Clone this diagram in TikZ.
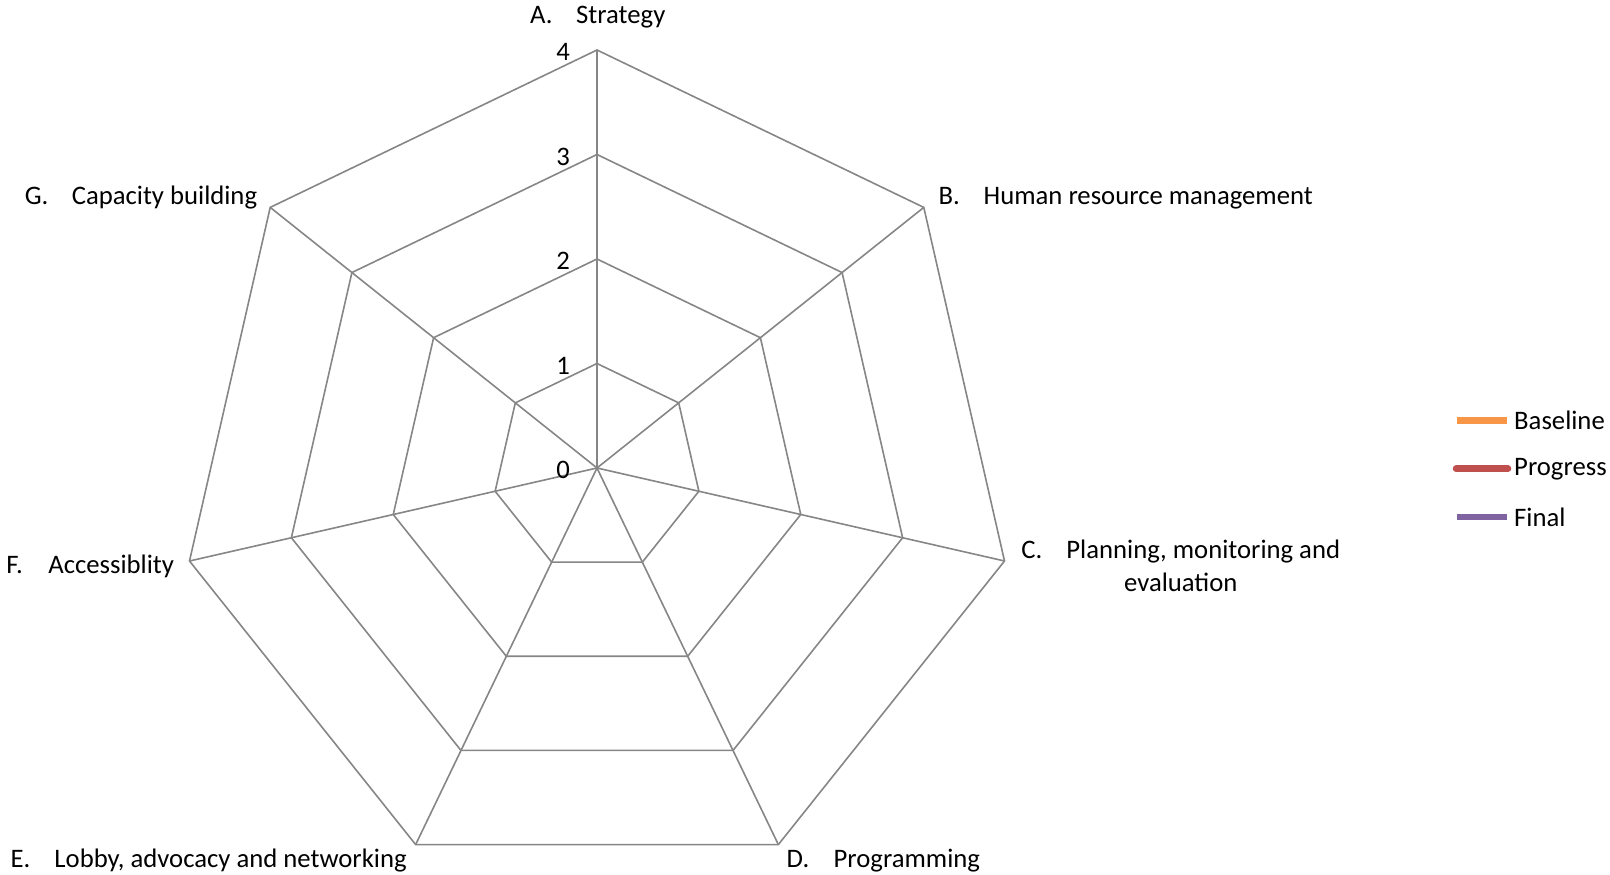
\documentclass[tikz,border=0pt]{standalone}
\usepackage{fontspec}
\usetikzlibrary{calc}
\setmainfont{Carlito}
\definecolor{gridgray}{RGB}{134,134,134}
\definecolor{cbase}{RGB}{247,150,70}
\definecolor{cprog}{RGB}{192,80,77}
\definecolor{cfinal}{RGB}{128,100,162}
\begin{document}
\begin{tikzpicture}[x=1pt,y=-1pt,
  gridline/.style={draw=gridgray, line width=1.6pt, line join=miter},
  lab/.style={anchor=west, inner sep=0pt, font=\fontsize{26.7}{32}\selectfont},
  tick/.style={anchor=east, inner sep=0pt, font=\fontsize{26.7}{32}\selectfont},
  legline/.style={line width=6.5pt}]
\useasboundingbox (0,0) rectangle (1610,875);
\coordinate (O) at (597,468);
% spokes
\foreach \i in {0,...,6} {
  \draw[gridline] (O) -- ++({418*sin(\i*360/7)},{-418*cos(\i*360/7)});
}
% rings
\foreach \r in {1,2,3,4} {
  \draw[gridline] ($(O)+(0,{-104.5*\r})$)
    \foreach \i in {1,...,6} { -- ($(O)+({104.5*\r*sin(\i*360/7)},{-104.5*\r*cos(\i*360/7)})$) } -- cycle;
}
% tick labels
\foreach \r in {0,1,2,3,4} {
  \node[tick] (t\r) at (570,{468-104.5*\r+2}) {\r};
}
% axis labels
\node[lab] (la) at (530,17.5) {\makebox[46pt][l]{A.}Strategy};
\node[lab] (lb) at (938.5,198) {\makebox[45pt][l]{B.}Human resource management};
\node[anchor=center, inner sep=0pt, align=center, font=\fontsize{26.7}{33}\selectfont] (lc) at (1180.8,566) {\makebox[45pt][l]{C.}Planning, monitoring and\\evaluation};
\node[lab] (ld) at (786.5,861) {\makebox[47pt][l]{D.}Programming};
\node[lab] (le) at (10.3,861) {\makebox[44pt][l]{E.}Lobby, advocacy and networking};
\node[lab] (lf) at (6.2,566) {\makebox[42pt][l]{F.}Accessiblity};
\node[lab] (lg) at (24.6,198) {\makebox[47pt][l]{G.}Capacity building};
% legend
\coordinate (b1) at (1457,420.7); \coordinate (b2) at (1507,420.7);
\coordinate (p1) at (1456,468.7); \coordinate (p2) at (1508,468.7);
\coordinate (f1) at (1457,517); \coordinate (f2) at (1507,517);
\draw[legline, draw=cbase] (b1) -- (b2);
\draw[legline, draw=cprog, line cap=round] (p1) -- (p2);
\draw[legline, draw=cfinal] (f1) -- (f2);
\node[lab] (lbase) at (1514,420.7) {Baseline};
\node[lab] (lprog) at (1514,469.5) {Progress};
\node[lab] (lfin) at (1514,517) {Final};
\end{tikzpicture}
\end{document}
